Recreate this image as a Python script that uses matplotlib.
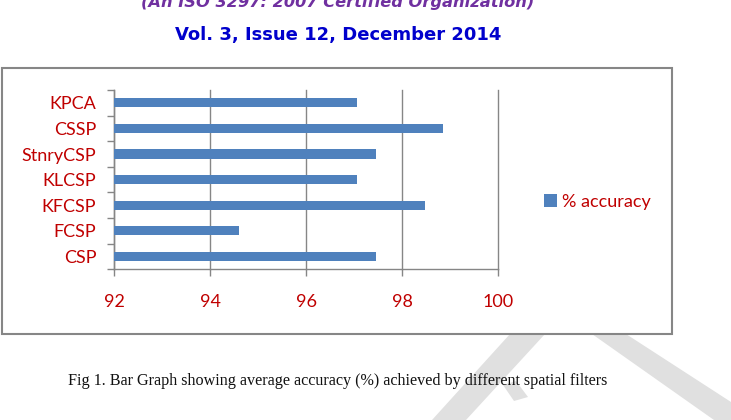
import matplotlib
matplotlib.use('Agg')
import matplotlib.pyplot as plt
from matplotlib.patches import Rectangle, Polygon

# data (bottom to top, as drawn)
filtros = ['CSP', 'FCSP', 'KFCSP', 'KLCSP', 'StnryCSP', 'CSSP', 'KPCA']
precision = [97.45, 94.6, 98.47, 97.06, 97.45, 98.85, 97.06]
marcas_x = [92, 94, 96, 98, 100]

W, H = 731, 420
rojo = '#C00000'
gris = '#868686'
azul = '#4F81BD'

def px(x, y):
    # pixel coords (top-left origin) -> figure fraction
    return (x / W, 1 - y / H)

fig = plt.figure(figsize=(W / 100, H / 100), dpi=100)

# watermark strokes
marca = '#E0E0E0'
for pts in ([(510, 334), (545, 334), (466, 420), (432, 420)],
            [(503, 385), (516, 381), (528, 397), (514, 401)],
            [(592, 334), (626, 334), (731, 402), (731, 420), (714, 420)]):
    fig.patches.append(Polygon([px(*p) for p in pts], closed=True,
                               transform=fig.transFigure, facecolor=marca,
                               edgecolor='none', zorder=0))

# chart frame
x0, y0 = px(2, 334)
x1, y1 = px(672, 68)
fig.patches.append(Rectangle((x0, y0), x1 - x0, y1 - y0, transform=fig.transFigure,
                             facecolor='white', edgecolor=gris, linewidth=1.5, zorder=1))

# header text
fig.text(338 / W, px(0, 2)[1], '(An ISO 3297: 2007 Certified Organization)',
         ha='center', va='center', fontsize=11.7, fontweight='bold', style='italic',
         color='#7030A0', family='DejaVu Sans')
fig.text(338 / W, px(0, 35)[1], 'Vol. 3, Issue 12, December 2014',
         ha='center', va='center', fontsize=13, fontweight='bold',
         color='#0000CC', family='DejaVu Sans')
fig.text(338 / W, px(0, 381)[1],
         'Fig 1. Bar Graph showing average accuracy (%) achieved by different spatial filters',
         ha='center', va='center', fontsize=11.6, color='#111111', family='Liberation Serif')

ax = fig.add_axes([114.3 / W, 1 - 269.3 / H, 384 / W, 179.3 / H])
ax.set_zorder(2)
ax.patch.set_alpha(0)

y = range(len(filtros))
ax.barh(y, precision, height=0.36, color=azul, label='% accuracy', zorder=3)

ax.set_xlim(92, 100)
ax.set_ylim(-0.5, len(filtros) - 0.5)
ax.set_xticks(marcas_x)
ax.set_xticklabels([str(v) for v in marcas_x])

# boundary ticks on y, labels at centers
ax.set_yticks([i - 0.5 for i in range(len(filtros) + 1)])
ax.set_yticklabels([])
ax.set_yticks(list(y), minor=True)
ax.set_yticklabels(filtros, minor=True)
ax.tick_params(axis='y', which='major', length=5, width=1, color=gris, direction='out')
ax.tick_params(axis='y', which='minor', length=0, pad=13, labelsize=13, labelcolor=rojo)
ax.tick_params(axis='x', length=5, width=1, color=gris, direction='out', pad=13,
               labelsize=13, labelcolor=rojo)
for t in ax.get_yticklabels(minor=True) + ax.get_xticklabels():
    t.set_family('Lato')

ax.grid(axis='x', color=gris, linewidth=1, zorder=1)
for g in ax.get_xgridlines():
    g.set_clip_on(False)
for lado in ['top', 'right']:
    ax.spines[lado].set_visible(False)
for lado in ['left', 'bottom']:
    ax.spines[lado].set_color(gris)
    ax.spines[lado].set_linewidth(1)

fig.legend(loc='center left', bbox_to_anchor=px(544, 201.7), frameon=False,
           handlelength=0.7, handleheight=0.7, handletextpad=0.3, borderpad=0,
           borderaxespad=0, prop={'family': 'Lato', 'size': 13}, labelcolor=rojo)

fig.savefig('out.png', dpi=100)
